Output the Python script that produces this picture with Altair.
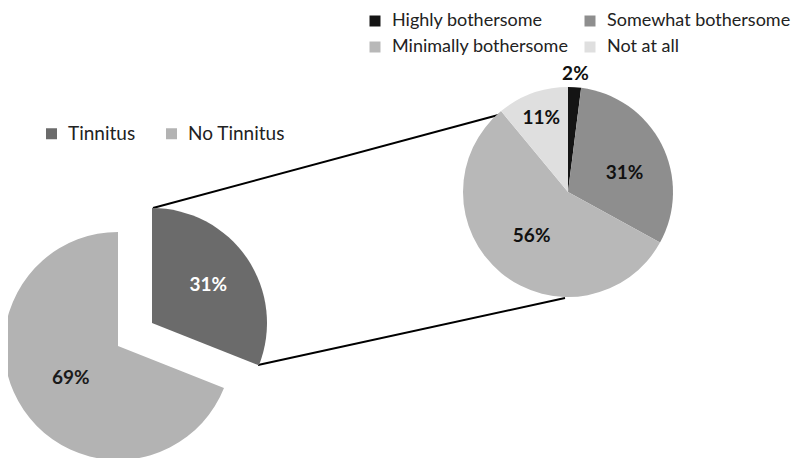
import math
import altair as alt
import pandas as pd

# ---- data ----
status = ["Tinnitus", "No Tinnitus"]
status_pct = [31, 69]

levels = ["Highly bothersome", "Somewhat bothersome", "Minimally bothersome", "Not at all"]
level_pct = [2, 31, 56, 11]

# ---- styles ----
status_colors = ["#6b6b6b", "#b3b3b3"]
level_colors = ["#141414", "#8e8e8e", "#b8b8b8", "#dfdfdf"]
FONT = "Lato"

left_df = pd.DataFrame({"status": status, "pct": status_pct, "order": list(range(len(status)))})
right_df = pd.DataFrame({"level": levels, "pct": level_pct, "order": list(range(len(levels)))})

theta_scale = alt.Scale(domain=[0, 100], range=[0, 2 * math.pi])


def stacked(df):
    return (
        alt.Chart(df)
        .transform_stack(stack="pct", groupby=[], as_=["start", "end"],
                         sort=[alt.SortField("order", order="ascending")])
        .transform_calculate(mid="(datum.start + datum.end) / 2",
                             label="datum.pct + '%'")
    )


def arc_enc(cx, cy, r, color):
    return dict(
        theta=alt.Theta("start:Q", scale=theta_scale, stack=False),
        theta2="end:Q",
        color=color,
        x=alt.value(cx), y=alt.value(cy), radius=alt.value(r),
    )


def label_layer(base, cond, cx, cy, r, color, dx=0, dy=0):
    return (
        base.transform_filter(cond)
        .mark_text(font=FONT, fontWeight="bold", fontSize=19, color=color,
                   align="center", baseline="middle", dx=dx, dy=dy)
        .encode(theta=alt.Theta("mid:Q", scale=theta_scale, stack=False),
                radius=alt.value(r), x=alt.value(cx), y=alt.value(cy),
                text="label:N")
    )


# ---- left pie ----
left_legend = alt.Legend(title=None, orient="none", legendX=34, legendY=116,
                         direction="horizontal", symbolType="square", symbolSize=121,
                         symbolStrokeWidth=0, labelFont=FONT, labelFontSize=19,
                         labelColor="#222222", labelOffset=7, columnPadding=26,
                         labelLimit=300)
left_color = alt.Color("status:N", scale=alt.Scale(domain=status, range=status_colors),
                       legend=left_legend)
lbase = stacked(left_df)
LCX, LCY, LR = 110, 338, 114
DCX, DCY, DR = 144, 315, 115

dark = lbase.transform_filter(alt.datum.status == "Tinnitus").mark_arc().encode(
    **arc_enc(DCX, DCY, DR, left_color))
light = lbase.transform_filter(alt.datum.status == "No Tinnitus").mark_arc().encode(
    **arc_enc(LCX, LCY, LR, left_color))
dark_txt = label_layer(lbase, alt.datum.status == "Tinnitus", DCX, DCY, 68, "#ffffff")
light_txt = label_layer(lbase, alt.datum.status == "No Tinnitus", LCX, LCY, 57, "#1a1a1a")
left = alt.layer(dark, light, dark_txt, light_txt)

# ---- right pie ----
# legend grid fills column by column: list entries so rows read as in the reference
legend_order = [levels[0], levels[2], levels[1], levels[3]]
right_legend = alt.Legend(title=None, orient="none", legendX=358, legendY=4,
                          columns=2, values=legend_order, symbolType="square",
                          symbolSize=121, symbolStrokeWidth=0, labelFont=FONT,
                          labelFontSize=18, labelColor="#222222", labelOffset=8,
                          columnPadding=12, rowPadding=8, labelLimit=300)
right_color = alt.Color("level:N", scale=alt.Scale(domain=levels, range=level_colors),
                        legend=right_legend)
rbase = stacked(right_df)
RCX, RCY, RR = 560, 184, 105
r_arcs = rbase.mark_arc().encode(**arc_enc(RCX, RCY, RR, right_color))
t_some = label_layer(rbase, alt.datum.level == "Somewhat bothersome", RCX, RCY, 60, "#111111", dx=3, dy=8)
t_min = label_layer(rbase, alt.datum.level == "Minimally bothersome", RCX, RCY, 57, "#111111")
t_not = label_layer(rbase, alt.datum.level == "Not at all", RCX, RCY, 79, "#111111")
t_high = label_layer(rbase, alt.datum.level == "Highly bothersome", RCX, RCY, 118, "#111111")
right = alt.layer(r_arcs, t_some, t_min, t_not, t_high)

# ---- connector lines ----
one = pd.DataFrame({"k": [0]})
line_top = alt.Chart(one).mark_rule(color="black", strokeWidth=2).encode(
    x=alt.value(145), y=alt.value(200), x2=alt.value(494), y2=alt.value(106))
line_bot = alt.Chart(one).mark_rule(color="black", strokeWidth=2).encode(
    x=alt.value(250), y=alt.value(357), x2=alt.value(557), y2=alt.value(290))

chart = (
    alt.layer(line_top, line_bot, left, right)
    .resolve_scale(color="independent")
    .properties(width=784, height=450, autosize="none", padding=0,
                background="white")
    .configure_view(stroke=None)
)

chart.save("out.html", embed_options={"renderer": "svg", "actions": False})
